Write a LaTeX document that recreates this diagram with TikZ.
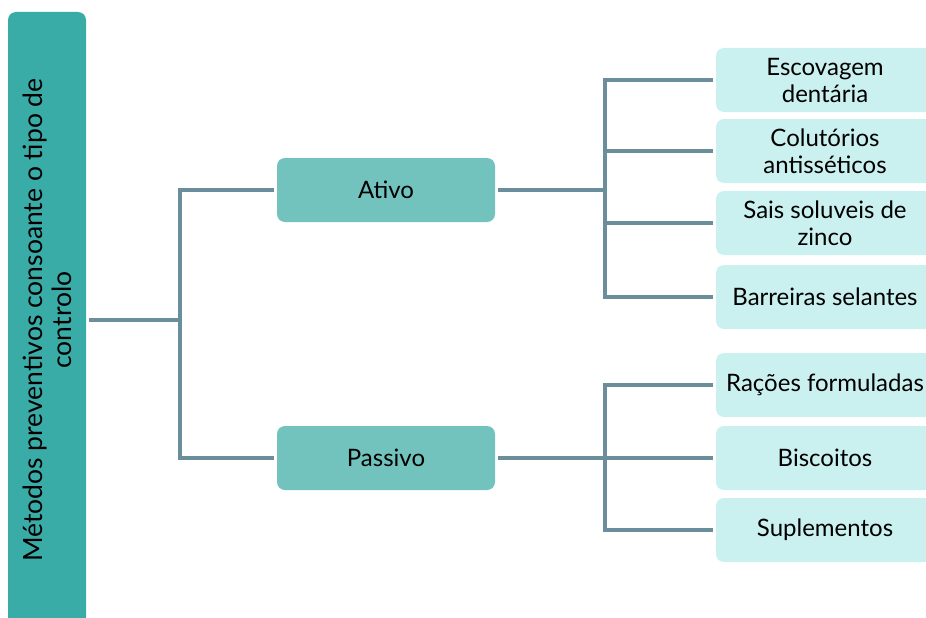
\documentclass[tikz,border=0pt]{standalone}
\usepackage{fontspec}
\setmainfont{Lato}
\usetikzlibrary{positioning}

\definecolor{rootteal}{HTML}{3AACA8}
\definecolor{midteal}{HTML}{72C3BE}
\definecolor{leafteal}{HTML}{CAF1EF}
\definecolor{linkgray}{HTML}{6A8E9B}

\begin{document}
\begin{tikzpicture}[x=1pt,y=-1pt,
	every node/.style={font=\fontsize{24}{27}\selectfont, outer sep=3pt},
	root/.style={fill=rootteal, rounded corners=8pt, rotate=90, align=center,
	  minimum width=616pt, minimum height=78pt, inner sep=0pt,
	  font=\fontsize{26.5}{29}\selectfont},
	mid/.style={fill=midteal, rounded corners=8pt, minimum width=218pt, minimum height=64pt},
	leaf/.style={fill=leafteal, rounded corners=8pt, minimum width=218pt, minimum height=64pt, align=center},
	link/.style={draw=linkgray, line width=4pt}]
	\useasboundingbox (0,0) rectangle (926,618);
	\clip (0,0) rectangle (926,618);

	\node[root] (metodos) at (47,320) {Métodos preventivos consoante o tipo de\\controlo};

	\node[mid] (ativo) at (386,190) {Ativo};
	\node[mid] (passivo) at (386,458) {Passivo};

	% ativo
	\node[leaf] (escovagem) at (825,80) {Escovagem\\dentária};
	\node[leaf] (colutorios) at (825,151) {Colutórios\\antisséticos};
	\node[leaf] (sais) at (825,223) {Sais soluveis de\\zinco};
	\node[leaf] (barreiras) at (825,297) {Barreiras selantes};

	% passivo
	\node[leaf] (racoes) at (825,385) {Rações formuladas};
	\node[leaf] (biscoitos) at (825,458) {Biscoitos};
	\node[leaf] (suplementos) at (825,530) {Suplementos};

	\coordinate (fork_root) at (180,320);
	\coordinate (fork_ativo) at (605,190);
	\coordinate (fork_passivo) at (605,458);

	\draw[link] (metodos.south |- fork_root) -- (fork_root);
	\draw[link] (ativo.west) -| (fork_root) |- (passivo.west);

	\draw[link] (ativo.east) -- (fork_ativo);
	\draw[link] (escovagem.west) -| (fork_ativo) |- (barreiras.west);
	\foreach \n in {colutorios,sais}
	  \draw[link] (fork_ativo |- \n.west) -- (\n.west);

	\draw[link] (passivo.east) -- (fork_passivo);
	\draw[link] (racoes.west) -| (fork_passivo) |- (suplementos.west);
	\draw[link] (fork_passivo |- biscoitos.west) -- (biscoitos.west);
\end{tikzpicture}
\end{document}
